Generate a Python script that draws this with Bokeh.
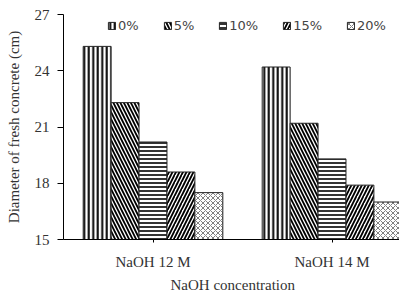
from bokeh.plotting import figure
from bokeh.models import Range1d, FixedTicker, Legend, LegendItem, Title
from bokeh.embed import file_html
from bokeh.resources import INLINE

categories = ["NaOH 12 M", "NaOH 14 M"]
series = ["0%", "5%", "10%", "15%", "20%"]
values = {
    "0%": [25.3, 24.2],
    "5%": [22.3, 21.2],
    "10%": [20.2, 19.3],
    "15%": [18.6, 17.9],
    "20%": [17.5, 17.0],
}
y_ticks = [15, 18, 21, 24, 27]

hatches = {"0%": "|", "5%": "\\", "10%": "-", "15%": "/", "20%": "x"}
hatch_colors = {"0%": "black", "5%": "black", "10%": "black", "15%": "black", "20%": "#808080"}
hatch_scales = {"0%": 4.5, "5%": 7.0, "10%": 4.0, "15%": 7.0, "20%": 5.0}
hatch_weights = {"0%": 2.0, "5%": 1.8, "10%": 1.6, "15%": 1.8, "20%": 1.0}

p = figure(width=399, height=295, output_backend="svg", toolbar_location=None,
           x_range=Range1d(0, 1.877), y_range=Range1d(15, 27),
           min_border_left=63, min_border_right=0, min_border_top=14, min_border_bottom=55)
p.outline_line_color = None
p.background_fill_color = "white"

bw = 0.156
centers = [0.5 + i for i in range(len(categories))]
items = []
for j, s in enumerate(series):
    xs = [c + (j - 2) * bw for c in centers]
    r = p.vbar(x=xs, top=values[s], bottom=15, width=bw,
               fill_color="white", line_color="#222222", line_width=1,
               hatch_pattern=hatches[s], hatch_color=hatch_colors[s],
               hatch_scale=hatch_scales[s], hatch_weight=hatch_weights[s])
    items.append(LegendItem(label=s, renderers=[r]))

legend = Legend(items=items, orientation="horizontal", location=(44, 206),
                border_line_color=None, background_fill_alpha=0,
                padding=0, margin=0, spacing=24, label_standoff=2,
                glyph_width=9, glyph_height=9, label_height=12,
                label_text_font="DejaVu Sans", label_text_font_size="13px",
                label_text_color="#444444")
p.add_layout(legend, "center")

serif = "Liberation Serif"
# axes
p.yaxis.ticker = FixedTicker(ticks=y_ticks)
p.yaxis.axis_label = "Diameter of fresh concrete (cm)"
p.yaxis.axis_label_text_font = serif
p.yaxis.axis_label_text_font_style = "normal"
p.yaxis.axis_label_text_font_size = "15px"
p.yaxis.axis_label_text_color = "#333333"
p.yaxis.axis_label_standoff = 10
p.yaxis.major_label_text_font = serif
p.yaxis.major_label_text_font_size = "15px"
p.yaxis.major_label_text_color = "#333333"
p.yaxis.major_tick_out = 6
p.yaxis.major_tick_in = 0
p.yaxis.minor_tick_line_color = None
p.yaxis.major_label_standoff = 8
p.yaxis.axis_line_color = "black"

p.xaxis.ticker = FixedTicker(ticks=centers)
p.xaxis.major_label_overrides = {c: lab for c, lab in zip(centers, categories)}
p.xaxis.major_label_text_font = serif
p.xaxis.major_label_text_font_size = "15px"
p.xaxis.major_label_text_color = "#333333"
p.xaxis.major_tick_out = 3
p.xaxis.major_tick_in = 0
p.xaxis.minor_tick_line_color = None
p.xaxis.major_label_standoff = 11
p.xaxis.axis_line_color = "black"

p.xgrid.grid_line_color = None
p.ygrid.ticker = FixedTicker(ticks=[27])
p.ygrid.grid_line_color = "#bbbbbb"

xtitle = Title(text="NaOH concentration", align="left", offset=107,
               text_font=serif, text_font_size="15px",
               text_font_style="normal", text_color="#333333", standoff=5)
p.add_layout(xtitle, "below")

open("out.html", "w").write(file_html(p, INLINE))
